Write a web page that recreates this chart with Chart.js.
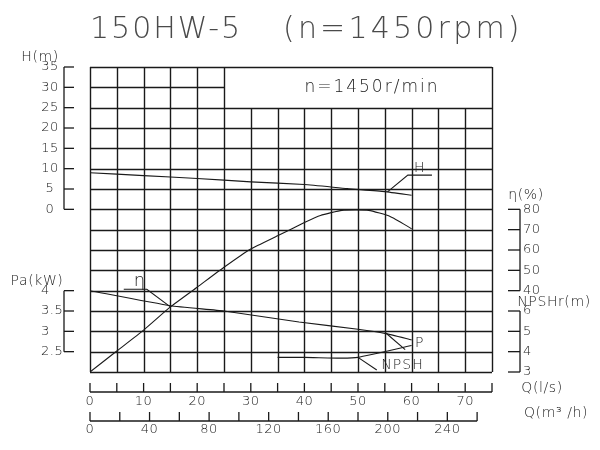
<!DOCTYPE html>
<html>
<head>
<meta charset="utf-8">
<script src="https://cdn.jsdelivr.net/npm/chart.js@4.4.1/dist/chart.umd.min.js"></script>
<style>
  html, body { margin: 0; padding: 0; background: #fff; }
  #wrap { width: 600px; height: 450px; }
</style>
</head>
<body>
<div id="wrap"><canvas id="chart" width="600" height="450"></canvas></div>
<script>
// Readings taken off the 150HW-5 sheet, flow in l/s
const headFlow = [0, 10, 20, 30, 40, 48, 55, 60];
const headValues = [9.0, 8.3, 7.6, 6.75, 6.1, 5.1, 4.35, 3.45];

const effFlow = [0, 5, 10, 15, 20, 25, 30, 35, 40, 43, 47, 52, 56, 60];
const effValues = [0, 10.3, 20.6, 32, 41.7, 51.5, 60.5, 67, 73.5, 77, 79.5, 79.5, 76.5, 70.5];

const powerFlow = [0, 15, 25, 39, 50, 55, 60];
const powerValues = [4.0, 3.63, 3.5, 3.23, 3.05, 2.95, 2.79];

const npshFlow = [35, 40, 47, 50, 60];
const npshValues = [3.72, 3.72, 3.68, 3.72, 4.3];

// Tick labels
const headTicks = [0, 5, 10, 15, 20, 25, 30, 35];
const powerTicks = [2.5, 3, 3.5, 4];
const effTicks = [40, 50, 60, 70, 80];
const npshTicks = [3, 4, 5, 6];
const flowTicks = [0, 10, 20, 30, 40, 50, 60, 70];
const flowM3Ticks = [0, 40, 80, 120, 160, 200, 240];

const INK = "#1a1a1a";
const TEXT = "#222";
const FONT = "'DejaVu Sans'";

const toPoints = (xs, ys) => xs.map((q, i) => ({ x: q, y: ys[i] }));

const curve = (data, axis) => ({
	data: data,
	yAxisID: axis,
	borderColor: INK,
	borderWidth: 1.1,
	pointRadius: 0,
	tension: 0.15,
	fill: false,
});

const setFont = (ctx, size, weight) => {
	ctx.font = (weight || "300") + " " + size + "px " + FONT;
};

// Grid, axes and labels drawn the way the printed sheet has them
const sheet = {
	id: "pumpSheet",
	beforeDatasetsDraw(chart) {
		const { ctx, scales } = chart;
		const { x, yH } = scales;
		ctx.save();
		ctx.strokeStyle = INK;
		ctx.lineWidth = 1.4;
		ctx.beginPath();
		for (let q = 0; q <= 75; q += 5) {
			const top = q <= 25 || q === 75 ? 35 : 25;
			const px = Math.round(x.getPixelForValue(q)) + 0.5;
			ctx.moveTo(px, yH.getPixelForValue(top));
			ctx.lineTo(px, yH.getPixelForValue(-40));
		}
		for (let h = -40; h <= 35; h += 5) {
			const end = h === 30 ? 25 : 75;
			const py = Math.round(yH.getPixelForValue(h)) + 0.5;
			ctx.moveTo(x.getPixelForValue(0), py);
			ctx.lineTo(x.getPixelForValue(end), py);
		}
		ctx.stroke();
		ctx.restore();
	},
	afterDraw(chart) {
		const { ctx, chartArea, scales } = chart;
		const { x, yH, yEta, yP, yN } = scales;
		const { left, right, bottom } = chartArea;
		ctx.save();
		ctx.strokeStyle = INK;
		ctx.fillStyle = TEXT;
		ctx.lineWidth = 1.3;

		const line = (x1, y1, x2, y2) => {
			ctx.beginPath();
			ctx.moveTo(x1, y1);
			ctx.lineTo(x2, y2);
			ctx.stroke();
		};

		// Title
		setFont(ctx, 30, "200");
		ctx.fillStyle = "#4a4a4a";
		ctx.letterSpacing = "2px";
		ctx.textAlign = "left";
		ctx.textBaseline = "alphabetic";
		ctx.fillText("150HW-5", left, 38);
		ctx.letterSpacing = "3.2px";
		ctx.fillText("(n=1450rpm)", 283, 38);
		ctx.fillStyle = TEXT;

		// Speed note in the top box
		setFont(ctx, 17);
		ctx.letterSpacing = "2px";
		ctx.textAlign = "center";
		ctx.textBaseline = "middle";
		ctx.fillText("n=1450r/min", x.getPixelForValue(52.6), 88);

		ctx.letterSpacing = "0.5px";
		setFont(ctx, 13);

		// Left: H(m)
		const lx = left - 26;
		line(lx, yH.getPixelForValue(0), lx, yH.getPixelForValue(35));
		headTicks.forEach((v) => {
			const py = yH.getPixelForValue(v);
			line(lx, py, lx + 10, py);
			ctx.textAlign = "center";
			ctx.fillText(String(v), lx - 14, py);
		});

		// Left: Pa(kW)
		line(lx, yP.getPixelForValue(2.5), lx, yP.getPixelForValue(4));
		powerTicks.forEach((v) => {
			const py = yP.getPixelForValue(v);
			line(lx, py, lx + 10, py);
			ctx.textAlign = "left";
			ctx.fillText(String(v), lx - 23, py);
		});

		// Right: efficiency and NPSHr
		const rx = right + 28;
		line(rx, yEta.getPixelForValue(40), rx, yEta.getPixelForValue(80));
		effTicks.forEach((v) => {
			const py = yEta.getPixelForValue(v);
			line(rx - 12, py, rx, py);
			ctx.textAlign = "left";
			ctx.fillText(String(v), rx + 3, py);
		});

		line(rx, yN.getPixelForValue(3), rx, yN.getPixelForValue(6));
		npshTicks.forEach((v) => {
			const py = yN.getPixelForValue(v);
			line(rx - 12, py, rx, py);
			ctx.textAlign = "left";
			ctx.fillText(String(v), rx + 3, py);
		});

		// Bottom: Q(l/s)
		const by = bottom + 20;
		line(x.getPixelForValue(0), by, x.getPixelForValue(75), by);
		for (let q = 0; q <= 75; q += 5) {
			const px = x.getPixelForValue(q);
			line(px, by - 9, px, by);
		}
		ctx.textAlign = "center";
		flowTicks.forEach((v) => ctx.fillText(String(v), x.getPixelForValue(v), by + 10));

		// Bottom: Q(m3/h)
		const my = bottom + 49;
		line(x.getPixelForValue(0), my, x.getPixelForValue(260 / 3.6), my);
		for (let m = 0; m <= 260; m += 20) {
			const px = x.getPixelForValue(m / 3.6);
			line(px, my - 9, px, my);
		}
		flowM3Ticks.forEach((v) => ctx.fillText(String(v), x.getPixelForValue(v / 3.6), my + 9));

		// Axis names
		setFont(ctx, 14);
		ctx.letterSpacing = "0.6px";
		ctx.textAlign = "center";
		ctx.fillText("H(m)", 40, 57);
		ctx.fillText("Pa(kW)", 37, 281);
		ctx.fillText("\u03b7(%)", 526, 195);
		ctx.fillText("NPSHr(m)", 554, 302);
		ctx.fillText("Q(l/s)", 542, 388);
		ctx.fillText("Q(m\u00b3 /h)", 556, 413);

		// Curve callouts
		ctx.lineWidth = 1.1;
		ctx.beginPath();
		ctx.moveTo(x.getPixelForValue(55.5), yH.getPixelForValue(4.3));
		ctx.lineTo(x.getPixelForValue(59.3), yH.getPixelForValue(8.4));
		ctx.lineTo(x.getPixelForValue(63.8), yH.getPixelForValue(8.4));
		ctx.stroke();
		ctx.fillText("H", x.getPixelForValue(61.5), yH.getPixelForValue(10));

		ctx.beginPath();
		ctx.moveTo(x.getPixelForValue(15), yEta.getPixelForValue(32));
		ctx.lineTo(x.getPixelForValue(10.6), yEta.getPixelForValue(40.7));
		ctx.lineTo(x.getPixelForValue(6.3), yEta.getPixelForValue(40.7));
		ctx.stroke();
		setFont(ctx, 18);
		ctx.fillText("\u03b7", x.getPixelForValue(9.3), yEta.getPixelForValue(44.5));

		setFont(ctx, 14);
		ctx.letterSpacing = "1px";
		line(x.getPixelForValue(55.2), yP.getPixelForValue(2.96), x.getPixelForValue(58.8), yP.getPixelForValue(2.55));
		ctx.fillText("P", x.getPixelForValue(61.5), yP.getPixelForValue(2.7));

		line(x.getPixelForValue(50), yN.getPixelForValue(3.72), x.getPixelForValue(53.5), yN.getPixelForValue(3.1));
		ctx.fillText("NPSH", x.getPixelForValue(58.3), yN.getPixelForValue(3.35));

		ctx.restore();
	},
};

new Chart(document.getElementById("chart"), {
	type: "line",
	data: {
		datasets: [
			curve(toPoints(headFlow, headValues), "yH"),
			curve(toPoints(effFlow, effValues), "yEta"),
			curve(toPoints(powerFlow, powerValues), "yP"),
			curve(toPoints(npshFlow, npshValues), "yN"),
		],
	},
	options: {
		responsive: false,
		animation: false,
		layout: { padding: { left: 90, right: 108, top: 67, bottom: 78 } },
		scales: {
			x: { type: "linear", min: 0, max: 75, display: false },
			yH: { type: "linear", min: -40, max: 35, display: false },
			yEta: { type: "linear", min: 0, max: 150, display: false },
			yP: { type: "linear", min: 2, max: 9.5, display: false },
			yN: { type: "linear", min: 3, max: 18, display: false },
		},
		plugins: {
			legend: { display: false },
			tooltip: { enabled: false },
			title: { display: false },
		},
	},
	plugins: [sheet],
});
</script>
</body>
</html>
